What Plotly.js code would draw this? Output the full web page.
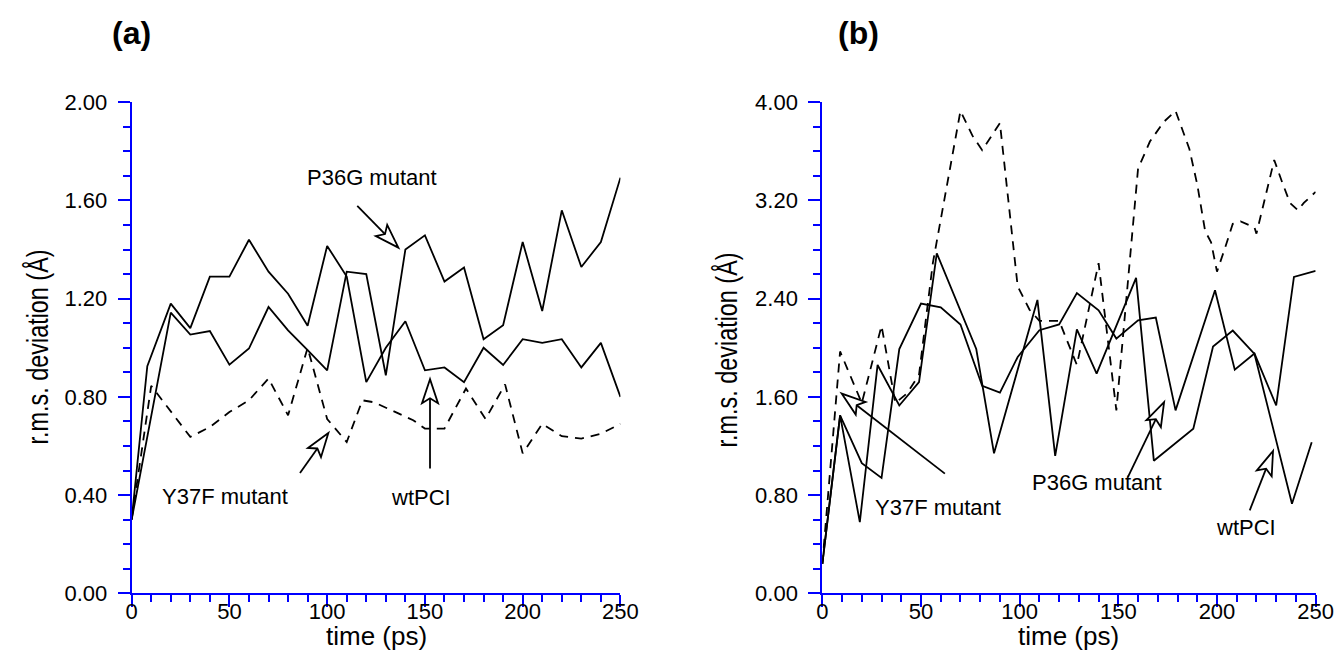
<!DOCTYPE html>
<html><head><meta charset="utf-8">
<script src="https://cdn.plot.ly/plotly-3.0.1.min.js"></script>
<style>html,body{margin:0;padding:0;background:#fff}#chart{width:1338px;height:662px}</style>
</head><body><div id="chart"></div>
<script>
// ---------- Panel (a) data ----------
const timeA_wt   = [0,8,20,30,40,50,60,70,80,90,100,110,120,130,140,150,160,170,180,190,200,210,220,230,240,250];
const rmsA_wt    = [0.30,0.925,1.18,1.08,1.29,1.29,1.44,1.31,1.22,1.09,1.415,1.29,0.86,1.00,1.108,0.908,0.92,0.86,1.00,0.93,1.035,1.02,1.035,0.92,1.02,0.80];
const timeA_p36g = [0,20,30,40,50,60,70,80,90,100,110,120,130,140,150,160,170,180,190,200,210,220,230,240,250];
const rmsA_p36g  = [0.30,1.143,1.054,1.068,0.931,0.997,1.166,1.071,0.99,0.908,1.31,1.30,0.888,1.40,1.458,1.27,1.327,1.035,1.092,1.431,1.15,1.56,1.329,1.431,1.693];
const timeA_y37f = [0,10,30,40,50,60,70,80,90,100,110,118,124,144,150,160,171,181,191,200,210,220,230,240,250];
const rmsA_y37f  = [0.30,0.845,0.637,0.677,0.738,0.786,0.875,0.725,1.00,0.71,0.616,0.786,0.778,0.705,0.671,0.671,0.834,0.71,0.851,0.57,0.69,0.64,0.63,0.65,0.69];

// ---------- Panel (b) data ----------
const timeB_wt   = [0,9,19,28,39,49,58,78,87,109,118,129,139,159,168,188,198,208,219,238,248];
const rmsB_wt    = [0.24,1.45,0.58,1.86,1.53,1.72,2.77,1.99,1.14,2.39,1.12,2.15,1.79,2.57,1.08,1.34,2.01,2.14,1.95,0.73,1.23];
const timeB_p36g = [0,9,20,30,39,50,60,70,81,90,99,110,120,129,140,149,160,169,179,199,209,219,230,239,250];
const rmsB_p36g  = [0.24,1.45,1.06,0.94,1.99,2.36,2.33,2.19,1.69,1.635,1.925,2.143,2.19,2.446,2.305,2.075,2.224,2.246,1.49,2.468,1.822,1.953,1.53,2.577,2.626];
const timeB_y37f = [0,9,20,30,37,43,49,53,56,70,76,81,87,90,99,105,110,120,129,140,149,160,166,173,179,186,190,194,197,200,204,208,212,219,220,229,233,237,241,244,250];
const rmsB_y37f  = [0.24,1.97,1.55,2.18,1.55,1.63,1.78,2.28,2.69,3.93,3.73,3.61,3.76,3.83,2.50,2.31,2.22,2.22,1.86,2.69,1.49,3.46,3.68,3.84,3.93,3.62,3.33,2.95,2.86,2.62,2.81,3.01,3.03,2.98,2.93,3.53,3.35,3.18,3.12,3.18,3.27];

// ---------- tick settings ----------
const xTickStep = 50, xMinorStep = 10;
const yTickStepA = 0.4, yMinorStepA = 0.1;
const yTickStepB = 0.8, yMinorStepB = 0.2;

// ---------- layout geometry ----------
const W = 1338, H = 662;
const domA = [0.0984, 0.4637], domB = [0.6146, 0.9833], domY = [0.1038, 0.8455];
const XMAX = 250, YMAXA = 2, YMAXB = 4;
const FONT = 'Liberation Sans, Arial, sans-serif';
const BLUE = '#0000ff';

function xax(dom, anchor){
  return {domain:dom, anchor:anchor, range:[0,XMAX], tick0:0, dtick:xTickStep,
    ticks:'outside', ticklen:12, tickwidth:2, tickcolor:BLUE,
    showline:true, linecolor:BLUE, linewidth:2, showgrid:false, zeroline:false,
    tickfont:{family:FONT, size:22, color:'#000'}, ticklabelstandoff:-15,
    minor:{dtick:xMinorStep, tick0:0, ticks:'outside', ticklen:7, tickwidth:2, tickcolor:BLUE, showgrid:false},
    fixedrange:true};
}
function yax(dom, anchor, ymax, step, mstep){
  return {domain:dom, anchor:anchor, range:[0,ymax], tick0:0, dtick:step, tickformat:'.2f',
    ticks:'outside', ticklen:12, tickwidth:2, tickcolor:BLUE,
    showline:true, linecolor:BLUE, linewidth:2, showgrid:false, zeroline:false,
    tickfont:{family:FONT, size:22, color:'#000'}, ticklabelstandoff:6,
    minor:{dtick:mstep, tick0:0, ticks:'outside', ticklen:7, tickwidth:2, tickcolor:BLUE, showgrid:false},
    fixedrange:true};
}

function line(x, y, xa, ya, dashed, name){
  return {x:x, y:y, xaxis:xa, yaxis:ya, mode:'lines', name:name, hoverinfo:'skip',
    line:{color:'#000', width:1.8, dash: dashed ? '9px,7px' : 'solid'}};
}

const data = [
  line(timeA_wt, rmsA_wt, 'x', 'y', false, 'wtPCI'),
  line(timeA_p36g, rmsA_p36g, 'x', 'y', false, 'P36G mutant'),
  line(timeA_y37f, rmsA_y37f, 'x', 'y', true, 'Y37F mutant'),
  line(timeB_wt, rmsB_wt, 'x2', 'y2', false, 'wtPCI'),
  line(timeB_p36g, rmsB_p36g, 'x2', 'y2', false, 'P36G mutant'),
  line(timeB_y37f, rmsB_y37f, 'x2', 'y2', true, 'Y37F mutant')
];

// pixel scales for arrowheads
const sxA = (domA[1]-domA[0])*W/XMAX, syA = (domY[1]-domY[0])*H/YMAXA;
const sxB = (domB[1]-domB[0])*W/XMAX, syB = (domY[1]-domY[0])*H/YMAXB;

const shapes = [];
function arrow(xr, yr, sx, sy, tail, tip){
  const dx=(tip[0]-tail[0])*sx, dy=(tip[1]-tail[1])*sy;
  const len=Math.hypot(dx,dy), ux=dx/len, uy=dy/len, px=-uy, py=ux;
  const L=24, Wd=8, N=19;
  const P=(a,b)=>[tip[0]+a/sx, tip[1]+b/sy];
  const b1=P(-ux*L+px*Wd, -uy*L+py*Wd), b2=P(-ux*L-px*Wd, -uy*L-py*Wd), nt=P(-ux*N, -uy*N);
  shapes.push({type:'line', xref:xr, yref:yr, x0:tail[0], y0:tail[1], x1:nt[0], y1:nt[1], line:{color:'#000', width:1.8}});
  shapes.push({type:'path', xref:xr, yref:yr,
    path:`M${tip[0]},${tip[1]} L${b1[0]},${b1[1]} L${nt[0]},${nt[1]} L${b2[0]},${b2[1]} Z`,
    fillcolor:'#fff', line:{color:'#000', width:1.8}});
}
// panel (a) arrows
arrow('x','y',sxA,syA,[115.4,1.578],[136.4,1.408]);
arrow('x','y',sxA,syA,[152.6,0.508],[152.6,0.872]);
arrow('x','y',sxA,syA,[86.1,0.49],[100.6,0.653]);
// panel (b) arrows
arrow('x2','y2',sxB,syB,[62.1,0.975],[9.8,1.627]);
arrow('x2','y2',sxB,syB,[154.9,0.948],[173.2,1.558]);
arrow('x2','y2',sxB,syB,[216.6,0.676],[228.4,1.159]);

function txt(text, x, y, xr, yr, size, extra){
  return Object.assign({text:text, x:x, y:y, xref:xr, yref:yr, showarrow:false,
    xanchor:'center', yanchor:'middle', font:{family:FONT, size:size, color:'#000'}}, extra||{});
}
const YTITLE = 'r.m.s. deviation (Å)';
const annotations = [
  txt('P36G mutant', 122.9, 1.695, 'x', 'y', 22),
  txt('Y37F mutant', 47.7, 0.395, 'x', 'y', 22),
  txt('wtPCI', 148, 0.391, 'x', 'y', 22),
  txt('Y37F mutant', 58.6, 0.70, 'x2', 'y2', 22),
  txt('P36G mutant', 139.2, 0.904, 'x2', 'y2', 22),
  txt('wtPCI', 214.7, 0.538, 'x2', 'y2', 22),
  txt('<b>(a)</b>', 131/W, 1-33/H, 'paper', 'paper', 32),
  txt('<b>(b)</b>', 858/W, 1-33/H, 'paper', 'paper', 32),
  txt('time (ps)', (domA[0]+domA[1])/2, 1-636/H, 'paper', 'paper', 26),
  txt('time (ps)', (domB[0]+domB[1])/2, 1-636/H, 'paper', 'paper', 26),
  txt(YTITLE, 37/W, 1-347/H, 'paper', 'paper', 30, {textangle:-90}),
  txt(YTITLE, 726/W, 1-350/H, 'paper', 'paper', 30, {textangle:-90})
];

const layout = {
  width:W, height:H, margin:{l:0,r:0,t:0,b:0}, showlegend:false,
  paper_bgcolor:'#fff', plot_bgcolor:'#fff',
  xaxis: xax(domA,'y'), yaxis: yax(domY,'x',YMAXA,yTickStepA,yMinorStepA),
  xaxis2: xax(domB,'y2'), yaxis2: yax(domY,'x2',YMAXB,yTickStepB,yMinorStepB),
  shapes:shapes, annotations:annotations
};
Plotly.newPlot('chart', data, layout, {displayModeBar:false, staticPlot:true}).then(function(gd){
  // condense the y-axis titles (the original uses a narrow face)
  gd.querySelectorAll('.annotation-text').forEach(function(t){
    if (t.textContent === YTITLE) {
      t.setAttribute('textLength', '195');
      t.setAttribute('lengthAdjust', 'spacingAndGlyphs');
    }
  });
});
</script></body></html>
